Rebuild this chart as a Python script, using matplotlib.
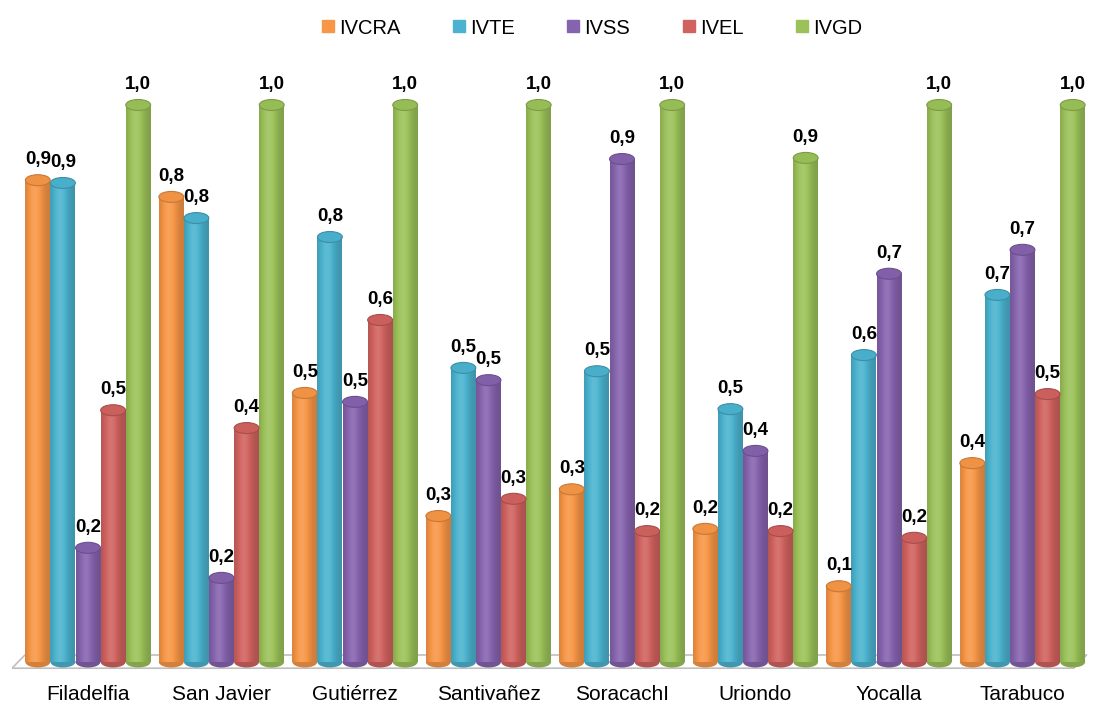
import numpy as np
import matplotlib
matplotlib.use("Agg")
import matplotlib.pyplot as plt
from matplotlib.patches import Ellipse
from matplotlib.lines import Line2D
from matplotlib.colors import to_rgb

plt.rcParams['font.family'] = ['Liberation Sans', 'DejaVu Sans']

categories = ["Filadelfia", "San Javier", "Gutiérrez", "Santivañez", "SoracachI",
              "Uriondo", "Yocalla", "Tarabuco"]
series_names = ["IVCRA", "IVTE", "IVSS", "IVEL", "IVGD"]
IVCRA = [0.865, 0.835, 0.483, 0.262, 0.310, 0.239, 0.136, 0.357]
IVTE = [0.860, 0.797, 0.763, 0.528, 0.522, 0.454, 0.551, 0.659]
IVSS = [0.205, 0.151, 0.467, 0.506, 0.903, 0.379, 0.697, 0.740]
IVEL = [0.452, 0.420, 0.614, 0.293, 0.235, 0.235, 0.223, 0.481]
IVGD = [1.0, 1.0, 1.0, 1.0, 1.0, 0.905, 1.0, 1.0]
series = [IVCRA, IVTE, IVSS, IVEL, IVGD]
colors = ["#F79646", "#4BB3CF", "#8663AE", "#D0625F", "#9BC259"]

fig = plt.figure(figsize=(10.95, 7.08), dpi=100)
W, H = 1095, 708
ax_left, ax_right = 12, 1092
ax_top, ax_bot = 70, 670
ax = fig.add_axes([ax_left / W, (H - ax_bot) / H, (ax_right - ax_left) / W, (ax_bot - ax_top) / H])

bw = 0.188
x = np.arange(len(categories))
offsets = (np.arange(len(series)) - 2) * bw

ymin = -(ax_bot - 662) / 557
ymax = (662 - ax_top) / 557
ax.set_ylim(ymin, ymax)
xmin = -76 / 133.5
xmax = xmin + (ax_right - ax_left) / 133.5
ax.set_xlim(xmin, xmax)

# floor
ax.add_line(Line2D([0.0, 0.012, 0.995, 0.983, 0.0], [0.003, 0.025, 0.025, 0.003, 0.003],
                   transform=ax.transAxes, color="#BFBFBF", lw=1.2, zorder=1))

# gradient profile for cylinders
t = np.linspace(0, 1, 64)
shade = 0.82 + 0.26 * np.exp(-((t - 0.4) / 0.33) ** 2)
ell_h = 11 / 557

def shaded(c, f):
    c = np.array(to_rgb(c))
    if f >= 1:
        return c + (1 - c) * (f - 1) * 1.4
    return c * f

for si, (vals, col) in enumerate(zip(series, colors)):
    grad = np.array([np.clip(shaded(col, f), 0, 1) for f in shade])[None, :, :]
    for ci, v in enumerate(vals):
        xc = x[ci] + offsets[si]
        w = bw * 0.99
        x0 = xc - w / 2
        x1 = xc + w / 2
        bar = ax.bar(xc, v, width=w, bottom=0, color=col, zorder=2, linewidth=0)[0]
        im = ax.imshow(grad, extent=[x0, x1, 0, v], aspect='auto', zorder=3,
                       interpolation='bilinear')
        im.set_clip_path(bar)
        ax.add_patch(Ellipse((xc, 0), w, ell_h, color=shaded(col, 0.85), zorder=2.5, lw=0))
        ax.add_patch(Ellipse((xc, v), w, ell_h, facecolor=shaded(col, 0.97),
                             edgecolor=shaded(col, 0.8), lw=0.8, zorder=4))
        ax.text(xc, v + 0.022, f"{v:.1f}".replace(".", ","), ha="center", va="bottom",
                fontsize=13.5, fontweight="bold", color="black", zorder=5)

ax.set_xticks(x)
ax.set_xticklabels(categories, fontsize=15)
ax.tick_params(axis='x', length=0, pad=11)
ax.set_yticks([])
for s in ax.spines.values():
    s.set_visible(False)

handles = [Line2D([], [], marker='s', linestyle='', markersize=8, markerfacecolor=c,
                  markeredgecolor=c) for c in colors]
fig.legend(handles, series_names, loc='center', bbox_to_anchor=(590 / W, 1 - 28 / H), ncol=5,
           frameon=False, fontsize=14.5, handletextpad=0.05, columnspacing=2.4,
           handlelength=1.0)

fig.savefig("out.png", dpi=100)
